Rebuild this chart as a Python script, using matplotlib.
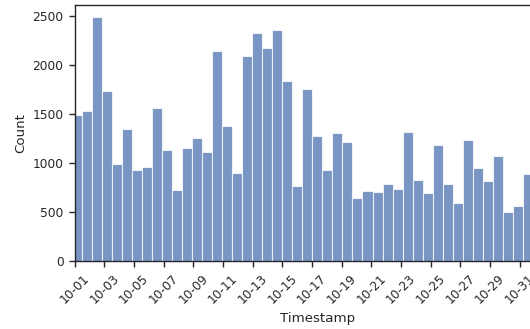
import datetime as dt
import matplotlib
matplotlib.use("Agg")
import matplotlib.pyplot as plt
import matplotlib.dates as mdates

plt.rcParams.update({
    "font.family": "DejaVu Sans",
    "text.color": "#262626",
    "axes.labelcolor": "#262626",
    "axes.edgecolor": "#262626",
    "xtick.color": "#262626",
    "ytick.color": "#262626",
    "axes.linewidth": 1.0,
    "xtick.major.width": 1.0,
    "ytick.major.width": 1.0,
    "xtick.major.size": 4.5,
    "ytick.major.size": 4.5,
})

# histogram of event timestamps (bins of ~16.2 h, first bin starts 09-30 evening)
bin_start = dt.datetime(2023, 9, 30, 19, 36)
bin_width_days = 0.6753
counts = [1486, 1524, 2483, 1728, 986, 1340, 925, 959, 1554, 1129,
          724, 1153, 1255, 1112, 2139, 1374, 901, 2092, 2327, 2170,
          2354, 1833, 765, 1748, 1272, 925, 1299, 1211, 639, 718,
          704, 782, 735, 1310, 823, 690, 1177, 789, 595, 1228,
          949, 810, 1071, 497, 558, 891]

x_first = dt.datetime(2023, 10, 1)
x_last = x_first + dt.timedelta(days=32.72)

lefts = [bin_start + dt.timedelta(days=i * bin_width_days) for i in range(len(counts))]

fig = plt.figure(figsize=(5.3, 3.29), dpi=100)
ax = fig.add_axes([0.141, 0.2067, 0.9157, 0.778])

ax.bar(lefts, counts, width=bin_width_days, align="edge",
       color="#4c72b0", alpha=0.75, edgecolor="white", linewidth=0.8)

ax.set_xlim(x_first, x_last)
ax.xaxis.set_major_locator(mdates.DayLocator(interval=2))
ax.xaxis.set_major_formatter(mdates.DateFormatter("%m-%d"))
ax.set_yticks([0, 500, 1000, 1500, 2000, 2500])
ax.tick_params(axis="x", labelrotation=45, labelsize=8.8)
ax.tick_params(axis="y", labelsize=8.8)

ax.set_xlabel("Timestamp", fontsize=9.6)
ax.set_ylabel("Count", fontsize=9.6)

fig.savefig("out.png", dpi=100)
